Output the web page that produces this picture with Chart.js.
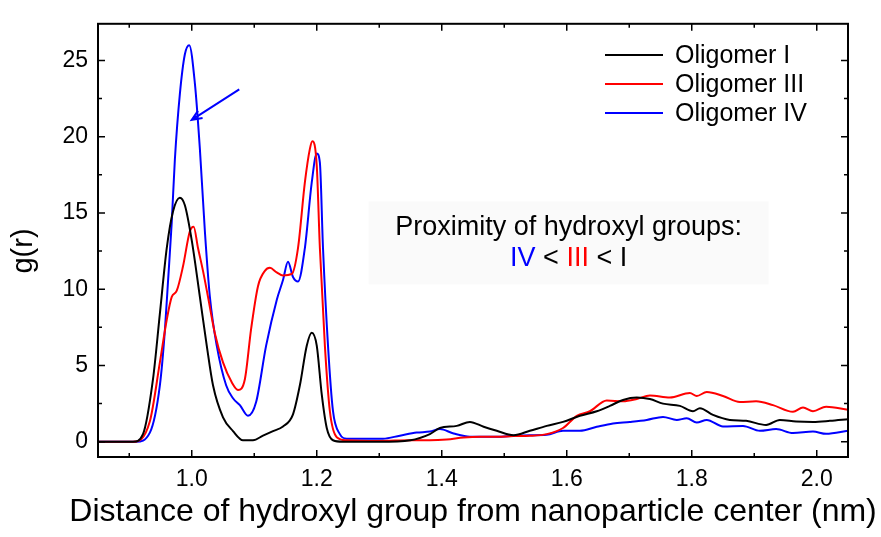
<!DOCTYPE html>
<html>
<head>
<meta charset="utf-8">
<script src="https://cdn.jsdelivr.net/npm/chart.js@4.4.1/dist/chart.umd.min.js"></script>
<style>
  html, body { margin: 0; padding: 0; background: #fff; }
  #wrap { width: 881px; height: 537px; }
</style>
</head>
<body>
<div id="wrap"><canvas id="grafico" width="881" height="537"></canvas></div>
<script>
// --- datos ---
const seriesNames = ['Oligomer I', 'Oligomer III', 'Oligomer IV'];
const seriesColors = ['#000000', '#ff0000', '#0000ff'];

const xOligomerI = [0.85, 0.906, 0.922, 0.938, 0.949, 0.960, 0.970, 0.981, 0.989, 1.000, 1.013, 1.024, 1.034, 1.050, 1.066, 1.082, 1.098, 1.114, 1.130, 1.146, 1.162, 1.173, 1.184, 1.192, 1.200, 1.208, 1.216, 1.226, 1.242, 1.30, 1.35, 1.381, 1.397, 1.424, 1.445, 1.467, 1.488, 1.515, 1.541, 1.568, 1.594, 1.621, 1.648, 1.669, 1.690, 1.712, 1.733, 1.754, 1.781, 1.802, 1.813, 1.834, 1.861, 1.887, 1.919, 1.941, 1.967, 1.994, 2.021, 2.05];
const yOligomerI = [0, 0, 0.5, 4.1, 8.4, 12.7, 15.1, 16.0, 15.5, 13.2, 9.5, 6.3, 3.7, 1.6, 0.7, 0.1, 0.1, 0.4, 0.7, 1.0, 1.8, 3.7, 6.3, 7.15, 6.3, 3.1, 0.9, 0.1, 0, 0, 0.1, 0.5, 0.9, 1.04, 1.3, 0.98, 0.72, 0.43, 0.72, 1.04, 1.3, 1.7, 2.0, 2.35, 2.74, 2.9, 2.8, 2.5, 2.35, 2.0, 2.2, 1.76, 1.43, 1.37, 1.1, 1.43, 1.33, 1.3, 1.37, 1.48];

const xOligomerIII = [0.85, 0.906, 0.933, 0.949, 0.960, 0.968, 0.976, 0.986, 0.997, 1.003, 1.010, 1.018, 1.026, 1.037, 1.050, 1.064, 1.074, 1.085, 1.095, 1.106, 1.117, 1.125, 1.136, 1.146, 1.160, 1.170, 1.181, 1.189, 1.193, 1.200, 1.205, 1.213, 1.221, 1.232, 1.248, 1.30, 1.35, 1.381, 1.408, 1.435, 1.461, 1.488, 1.515, 1.541, 1.568, 1.594, 1.616, 1.637, 1.664, 1.690, 1.712, 1.733, 1.765, 1.797, 1.808, 1.824, 1.850, 1.877, 1.903, 1.930, 1.962, 1.978, 1.994, 2.015, 2.05];
const yOligomerIII = [0, 0, 1.35, 5.2, 8.0, 9.5, 9.9, 11.5, 13.8, 14.1, 12.7, 11.2, 9.5, 7.1, 5.2, 3.9, 3.4, 4.1, 7.4, 10.2, 11.2, 11.4, 11.1, 10.9, 11.0, 12.7, 17.0, 19.2, 19.7, 18.1, 12.7, 6.3, 2.0, 0.3, 0.1, 0.05, 0.1, 0.1, 0.15, 0.28, 0.33, 0.33, 0.37, 0.39, 0.5, 0.9, 1.7, 2.0, 2.7, 2.65, 2.8, 3.04, 2.9, 3.2, 3.0, 3.26, 3.0, 2.6, 2.65, 2.4, 1.96, 2.24, 2.0, 2.3, 2.1];

const xOligomerIV = [0.85, 0.911, 0.933, 0.949, 0.957, 0.962, 0.968, 0.973, 0.981, 0.989, 0.996, 1.005, 1.013, 1.021, 1.029, 1.040, 1.055, 1.066, 1.077, 1.090, 1.103, 1.119, 1.136, 1.146, 1.154, 1.162, 1.170, 1.181, 1.192, 1.200, 1.205, 1.210, 1.218, 1.226, 1.237, 1.248, 1.306, 1.333, 1.360, 1.381, 1.397, 1.419, 1.445, 1.488, 1.515, 1.541, 1.568, 1.594, 1.621, 1.648, 1.674, 1.701, 1.728, 1.754, 1.776, 1.792, 1.808, 1.824, 1.850, 1.882, 1.909, 1.935, 1.962, 1.994, 2.015, 2.05];
const yOligomerIV = [0, 0, 0.6, 3.7, 7.3, 10.5, 14.4, 18.5, 22.8, 25.4, 26.0, 23.5, 19.2, 13.8, 9.5, 6.3, 3.7, 2.85, 2.4, 1.7, 2.6, 6.3, 9.3, 10.6, 11.8, 10.8, 10.5, 12.7, 17.0, 18.9, 18.3, 12.7, 6.3, 2.0, 0.5, 0.2, 0.2, 0.4, 0.6, 0.67, 0.83, 0.54, 0.33, 0.33, 0.39, 0.43, 0.46, 0.72, 0.72, 0.98, 1.2, 1.3, 1.43, 1.63, 1.43, 1.54, 1.26, 1.43, 1.0, 1.04, 0.72, 0.83, 0.57, 0.67, 0.52, 0.72];

const xTicks = [1.0, 1.2, 1.4, 1.6, 1.8, 2.0];
const xMinorTicks = [0.9, 1.1, 1.3, 1.5, 1.7, 1.9];
const yTicks = [0, 5, 10, 15, 20, 25];
const yMinorTicks = [2.5, 7.5, 12.5, 17.5, 22.5];

const xTitle = 'Distance of hydroxyl group from nanoparticle center (nm)';
const yTitle = 'g(r)';
const noteLine1 = 'Proximity of hydroxyl groups:';
const noteLine2 = [['IV', '#0000ff'], [' < ', '#000000'], ['III', '#ff0000'], [' < I', '#000000']];
// posiciones de la nota y la flecha en unidades de datos
const notePos = { x: 1.603, y1: 14.05, y2: 12.0 };
const arrowFrom = { x: 1.076, y: 23.1 };
const arrowTo = { x: 1.0, y: 21.1 };

const fuente = '"Liberation Sans", Arial, sans-serif';

function puntos(xs, ys) {
    return xs.map((x, i) => ({ x: x, y: ys[i] }));
}

const datos = {
    datasets: [
        { label: seriesNames[0], data: puntos(xOligomerI, yOligomerI), borderColor: seriesColors[0] },
        { label: seriesNames[1], data: puntos(xOligomerIII, yOligomerIII), borderColor: seriesColors[1] },
        { label: seriesNames[2], data: puntos(xOligomerIV, yOligomerIV), borderColor: seriesColors[2] },
    ].map(d => Object.assign(d, {
        borderWidth: 2,
        pointRadius: 0,
        fill: false,
        cubicInterpolationMode: 'monotone',
    })),
};

// fondo tenue de la nota (debajo de las curvas)
const fondoNota = {
    id: 'fondoNota',
    beforeDatasetsDraw(chart) {
        const ctx = chart.ctx;
        const nx = chart.scales.x.getPixelForValue(notePos.x);
        const ny = chart.scales.y.getPixelForValue(notePos.y1);
        ctx.save();
        ctx.fillStyle = '#fafafa';
        ctx.fillRect(nx - 200, ny - 26, 400, 83);
        ctx.restore();
    },
};

// marco, marcas interiores, leyenda, titulos y nota
const extras = {
    id: 'extras',
    afterDatasetsDraw(chart) {
        const ctx = chart.ctx;
        const a = chart.chartArea;
        const sx = chart.scales.x;
        const sy = chart.scales.y;
        ctx.save();

        // marcas de los ejes hacia dentro
        ctx.strokeStyle = '#000';
        ctx.lineWidth = 1.5;
        ctx.beginPath();
        const marcaX = (v, len) => {
            const px = sx.getPixelForValue(v);
            ctx.moveTo(px, a.bottom); ctx.lineTo(px, a.bottom - len);
            ctx.moveTo(px, a.top); ctx.lineTo(px, a.top + len);
        };
        const marcaY = (v, len) => {
            const py = sy.getPixelForValue(v);
            ctx.moveTo(a.left, py); ctx.lineTo(a.left + len, py);
            ctx.moveTo(a.right, py); ctx.lineTo(a.right - len, py);
        };
        xTicks.forEach(v => marcaX(v, 7));
        xMinorTicks.forEach(v => marcaX(v, 4));
        yTicks.forEach(v => marcaY(v, 7));
        yMinorTicks.forEach(v => marcaY(v, 4));
        ctx.stroke();
        ctx.lineWidth = 2;
        ctx.strokeRect(a.left, a.top, a.right - a.left, a.bottom - a.top);

        // leyenda
        ctx.font = '25px ' + fuente;
        ctx.textBaseline = 'middle';
        ctx.textAlign = 'left';
        seriesNames.forEach((nombre, i) => {
            const y = 55 + i * 29;
            ctx.strokeStyle = seriesColors[i];
            ctx.lineWidth = 2;
            ctx.beginPath();
            ctx.moveTo(605, y); ctx.lineTo(663, y);
            ctx.stroke();
            ctx.fillStyle = '#000';
            ctx.fillText(nombre, 675, y + 1);
        });

        // nota
        const nx = sx.getPixelForValue(notePos.x);
        ctx.font = '27px ' + fuente;
        ctx.fillStyle = '#000';
        ctx.textAlign = 'center';
        ctx.fillText(noteLine1, nx, sy.getPixelForValue(notePos.y1));
        const total = noteLine2.reduce((s, p) => s + ctx.measureText(p[0]).width, 0);
        let cx = nx - total / 2;
        ctx.textAlign = 'left';
        const y2 = sy.getPixelForValue(notePos.y2);
        noteLine2.forEach(p => {
            ctx.fillStyle = p[1];
            ctx.fillText(p[0], cx, y2);
            cx += ctx.measureText(p[0]).width;
        });

        // flecha
        const x0 = sx.getPixelForValue(arrowFrom.x), y0 = sy.getPixelForValue(arrowFrom.y);
        const x1 = sx.getPixelForValue(arrowTo.x), y1 = sy.getPixelForValue(arrowTo.y);
        const ang = Math.atan2(y1 - y0, x1 - x0);
        ctx.strokeStyle = '#0000ff';
        ctx.lineWidth = 2;
        ctx.beginPath();
        ctx.moveTo(x0, y0); ctx.lineTo(x1, y1);
        ctx.moveTo(x1 - 11 * Math.cos(ang - 0.4), y1 - 11 * Math.sin(ang - 0.4));
        ctx.lineTo(x1, y1);
        ctx.lineTo(x1 - 11 * Math.cos(ang + 0.4), y1 - 11 * Math.sin(ang + 0.4));
        ctx.stroke();

        // titulos de los ejes
        ctx.fillStyle = '#000';
        ctx.font = '32px ' + fuente;
        ctx.textAlign = 'center';
        ctx.fillText(xTitle, (a.left + a.right) / 2, 512);
        ctx.translate(24, 251);
        ctx.rotate(-Math.PI / 2);
        ctx.font = '29px ' + fuente;
        ctx.fillText(yTitle, 0, 0);
        ctx.restore();
    },
};

const opciones = {
    responsive: false,
    animation: false,
    layout: { padding: { top: 15, right: 33, left: 0, bottom: 0 } },
    plugins: { legend: { display: false }, tooltip: { enabled: false } },
    scales: {
        x: {
            type: 'linear',
            min: 0.85,
            max: 2.05,
            afterBuildTicks: s => { s.ticks = xTicks.map(v => ({ value: v })); },
            afterFit: s => { s.height = 80; },
            grid: { display: false, drawTicks: false },
            border: { display: false },
            ticks: {
                color: '#000',
                padding: 9,
                maxRotation: 0,
                font: { family: fuente, size: 23 },
                callback: v => Number(v).toFixed(1),
            },
        },
        y: {
            type: 'linear',
            min: -1,
            max: 27.4,
            afterBuildTicks: s => { s.ticks = yTicks.map(v => ({ value: v })); },
            afterFit: s => { s.width = 98; },
            grid: { display: false, drawTicks: false },
            border: { display: false },
            ticks: {
                color: '#000',
                padding: 10,
                font: { family: fuente, size: 23 },
            },
        },
    },
};

const contexto = document.getElementById('grafico').getContext('2d');
new Chart(contexto, {
    type: 'line',
    data: datos,
    options: opciones,
    plugins: [fondoNota, extras],
});
</script>
</body>
</html>
